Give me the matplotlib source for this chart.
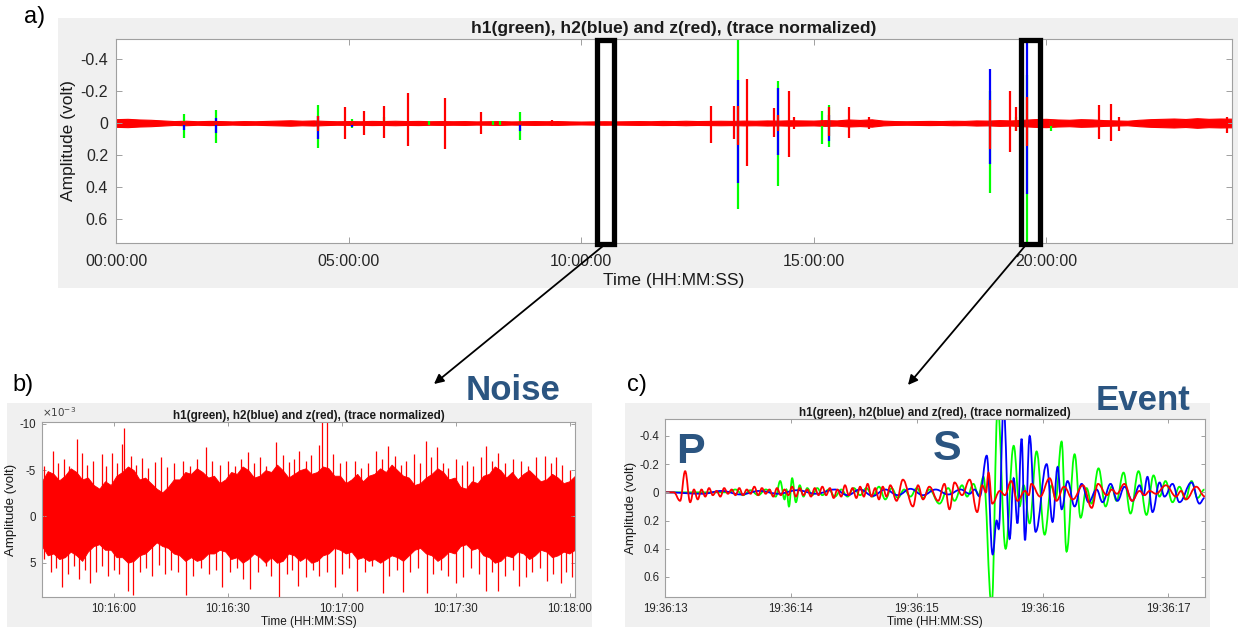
import matplotlib
matplotlib.use('Agg')
import numpy as np
import matplotlib.pyplot as plt
from matplotlib.path import Path
from matplotlib.patches import PathPatch, Rectangle, FancyArrowPatch

plt.rcParams['font.family'] = ['Liberation Sans', 'DejaVu Sans']

# ---------------- данные ----------------
# панель a) – сутки записи, часы; полуширина фонового шума по сетке 0.25 ч
a_env = [0.024, 0.026, 0.022, 0.020, 0.016,
         0.012, 0.014, 0.011, 0.013, 0.012, 0.010, 0.012, 0.011,
         0.013, 0.015, 0.017, 0.014, 0.016, 0.013, 0.011, 0.012,
         0.011, 0.013, 0.012, 0.014, 0.012, 0.013, 0.011, 0.012,
         0.011, 0.012, 0.010, 0.011, 0.012, 0.010, 0.011, 0.012,
         0.011, 0.012, 0.010, 0.009, 0.010, 0.011, 0.010, 0.011,
         0.012, 0.011, 0.013, 0.012, 0.014, 0.012, 0.013, 0.014,
         0.013, 0.015, 0.014, 0.016, 0.015, 0.017, 0.016, 0.015,
         0.018, 0.016, 0.022, 0.019, 0.023, 0.015, 0.012, 0.011,
         0.012, 0.013, 0.012, 0.014, 0.013, 0.016, 0.015, 0.018,
         0.016, 0.020, 0.024, 0.026, 0.022, 0.020, 0.024, 0.022,
         0.018, 0.016, 0.014, 0.020, 0.024, 0.026, 0.028, 0.025,
         0.030, 0.026, 0.028, 0.027]
a_env_h = np.linspace(0, 24, len(a_env))

a_ev_h = [1.46, 2.14, 4.34, 4.93, 5.08, 5.33, 5.76, 6.27, 6.73, 7.07, 7.86, 8.10, 8.26, 8.69,
          9.37, 12.80, 13.30, 13.38, 13.57, 14.14, 14.24, 14.47, 14.57, 15.18, 15.33, 15.77,
          16.20, 18.79, 19.22, 19.35, 19.60, 20.11, 21.15, 21.40, 21.57, 23.90]
a_green_lo = [-0.058, -0.080, -0.110, 0, -0.027, 0, -0.040, 0, -0.012, 0, 0, -0.015, -0.012,
              -0.070, 0, 0, 0, -0.60, 0, 0, -0.262, 0, 0, -0.076, -0.110, 0, 0, -0.20, 0,
              -0.040, -0.30, -0.020, 0, 0, 0, 0]
a_green_hi = [0.093, 0.124, 0.155, 0, 0.030, 0, 0.0, 0, 0.012, 0, 0, 0.012, 0.012, 0.105, 0,
              0, 0, 0.536, 0, 0, 0.392, 0, 0, 0.130, 0.149, 0, 0, 0.44, 0, 0.05, 0.80, 0.05,
              0, 0, 0, 0]
a_blue_lo = [0.0, -0.030, -0.045, 0, 0, 0, 0, 0, 0, 0, 0, 0, 0, 0.0, 0, 0, 0, -0.268, 0, 0,
             -0.216, 0, 0, 0, -0.050, 0, 0, -0.34, 0, 0, -0.52, 0, 0, 0, 0, 0]
a_blue_hi = [0.045, 0.060, 0.100, 0, 0.025, 0, 0, 0, 0, 0, 0, 0, 0, 0.050, 0, 0, 0, 0.375, 0,
             0, 0.200, 0, 0, 0, 0.115, 0, 0, 0.258, 0, 0, 0.443, 0, 0, 0, 0, 0]
a_red_lo = [-0.01, -0.015, -0.045, -0.097, -0.01, -0.076, -0.107, -0.186, 0, -0.155, -0.070,
            0, 0, -0.01, -0.02, -0.107, -0.107, -0.107, -0.274, -0.093, -0.05, -0.200, -0.04,
            -0.02, -0.097, -0.100, -0.04, -0.144, -0.200, -0.100, -0.165, -0.02, -0.110,
            -0.120, -0.040, -0.04]
a_red_hi = [0.01, 0.015, 0.050, 0.097, 0.01, 0.072, 0.093, 0.144, 0, 0.165, 0.066, 0, 0,
            0.01, 0.02, 0.128, 0.100, 0.140, 0.268, 0.087, 0.05, 0.210, 0.04, 0.02, 0.082,
            0.093, 0.04, 0.160, 0.180, 0.05, 0.144, 0.02, 0.100, 0.113, 0.050, 0.06]
a_ticks_h = [0, 5, 10, 15, 20]
a_tick_lbl = ['00:00:00', '05:00:00', '10:00:00', '15:00:00', '20:00:00']
a_box_noise = (10.34, 10.71)
a_box_event = (19.46, 19.87)

# панель b) – шум, секунды после 10:15:00, амплитуда x1e-3 (огибающая по сетке ~1.5 с)
b_env_top = [-3.8, -4.9, -4.6, -3.9, -4.4, -5.2, -4.8, -4.0, -4.2, -3.4,
             -3.0, -3.8, -3.4, -4.4, -4.8, -5.4, -5.0, -4.0, -4.2, -3.6,
             -3.0, -2.6, -3.2, -4.0, -4.0, -4.8, -4.6, -5.2, -4.8, -4.2,
             -4.4, -3.6, -4.0, -4.8, -4.6, -5.4, -5.0, -4.2, -4.4, -5.0,
             -4.8, -5.6, -5.0, -4.2, -4.6, -5.0, -5.2, -4.6, -4.8, -5.4,
             -5.2, -4.4, -4.4, -3.6, -4.0, -4.6, -3.8, -4.4, -4.6, -5.2,
             -4.8, -5.6, -5.0, -4.4, -4.2, -3.4, -3.6, -4.2, -4.6, -5.2,
             -4.8, -4.0, -4.2, -3.2, -3.0, -3.8, -3.6, -4.4, -4.6, -5.4,
             -5.0, -4.2, -4.8, -4.0, -4.6, -5.0, -4.4, -3.8, -4.0, -4.6,
             -4.2, -3.6, -3.8, -4.4]
b_env_bot = [3.2, 4.2, 4.0, 4.6, 4.4, 3.8, 4.2, 4.8, 3.8, 3.2,
             3.0, 3.6, 3.6, 4.4, 4.4, 5.0, 4.8, 4.2, 4.0, 3.4,
             2.8, 3.2, 3.4, 4.0, 4.2, 4.8, 4.4, 4.8, 4.6, 4.0,
             4.0, 3.6, 3.8, 4.6, 4.4, 5.0, 4.6, 4.0, 4.4, 5.0,
             4.4, 5.0, 4.8, 4.0, 4.2, 4.8, 4.4, 5.0, 4.8, 4.2,
             4.0, 3.4, 3.6, 4.0, 3.8, 4.6, 4.4, 4.8, 4.6, 5.0,
             4.6, 4.2, 4.4, 4.8, 4.2, 3.6, 3.4, 4.0, 4.2, 4.8,
             4.4, 3.8, 4.0, 3.2, 3.0, 3.6, 3.4, 4.2, 4.4, 5.0,
             4.8, 4.2, 4.4, 3.8, 4.0, 4.6, 4.2, 3.6, 3.8, 4.4,
             4.2, 3.8, 4.0, 3.6]
b_env_s = np.linspace(41.2, 181.3, len(b_env_top))
b_up_s = [41.8, 44.2, 45.5, 47.0, 48.3, 50.3, 51.6, 53.0, 54.5, 56.9, 58.0, 59.5, 61.0, 62.2,
          62.8, 64.5, 66.0, 67.5, 69.0, 71.0, 72.5, 74.0, 76.0, 78.2, 80.0, 82.0, 84.4, 86.0,
          88.0, 90.1, 92.0, 93.5, 95.3, 96.8, 98.4, 100.0, 102.6, 104.5, 106.0, 107.5, 108.8,
          110.5, 112.0, 114.0, 114.7, 116.0, 117.7, 119.5, 121.0, 123.4, 125.0, 127.0, 129.1,
          130.5, 132.2, 134.0, 135.5, 137.0, 139.0, 140.5, 142.1, 143.5, 144.9, 146.5, 148.0,
          150.0, 151.5, 153.0, 154.5, 156.5, 158.0, 159.5, 161.1, 163.0, 165.0, 167.0, 169.0,
          171.0, 173.3, 175.0, 176.4, 178.0, 180.0]
b_up_amp = [-5.5, -7.1, -5.8, -6.2, -5.4, -8.4, -6.8, -5.6, -6.0, -6.7, -5.5, -6.9, -5.8, -7.8,
            -9.6, -6.5, -5.6, -6.3, -5.2, -5.9, -6.4, -5.3, -5.8, -6.0, -5.5, -6.2, -7.5, -6.0,
            -5.6, -6.0, -5.4, -6.2, -7.0, -5.8, -6.4, -5.5, -8.0, -6.6, -5.9, -6.2, -7.1, -6.0,
            -6.6, -7.7, -10.5, -10.5, -6.7, -5.8, -6.0, -6.0, -5.2, -5.8, -7.1, -6.2, -7.6,
            -6.5, -5.6, -6.0, -6.7, -5.8, -8.2, -6.4, -7.5, -5.8, -5.2, -6.2, -5.6, -6.0, -5.4,
            -6.4, -7.6, -6.0, -6.9, -5.8, -6.2, -6.0, -5.5, -6.4, -6.5, -5.8, -6.4, -5.6, -5.0]
b_dn_s = [41.6, 43.5, 44.8, 46.4, 48.0, 49.5, 51.0, 52.5, 53.8, 55.5, 57.0, 58.5, 60.0, 61.5,
          63.9, 65.2, 67.0, 68.5, 70.0, 72.0, 73.5, 75.0, 77.0, 79.0, 81.0, 83.0, 85.0, 87.0,
          88.5, 90.5, 92.5, 94.0, 96.0, 98.0, 100.0, 101.5, 103.5, 105.5, 107.0, 108.5, 110.7,
          112.5, 114.0, 116.0, 118.2, 120.0, 122.0, 124.0, 126.0, 128.0, 130.9, 132.5, 134.5,
          136.0, 138.0, 140.0, 142.3, 144.0, 146.0, 148.0, 150.0, 151.9, 154.0, 156.0, 158.0,
          159.5, 161.1, 163.0, 165.0, 166.5, 168.5, 170.0, 172.0, 174.0, 175.5, 177.7, 179.0,
          180.5]
b_dn_amp = [4.6, 6.0, 5.6, 7.6, 6.2, 5.4, 6.8, 5.8, 7.2, 6.0, 5.4, 6.4, 5.8, 6.2, 8.1, 8.5,
            6.0, 5.6, 6.4, 5.2, 6.2, 5.8, 6.0, 8.5, 6.4, 5.6, 6.2, 5.8, 7.6, 6.0, 5.6, 6.8, 7.8,
            6.0, 5.4, 6.4, 8.8, 6.2, 5.8, 7.5, 6.5, 5.8, 6.4, 6.0, 7.6, 6.2, 5.6, 8.0, 6.0, 5.4,
            8.3, 6.4, 5.8, 8.2, 6.0, 5.6, 8.3, 6.2, 5.8, 6.4, 7.2, 6.5, 5.6, 6.2, 8.1, 6.0, 8.1,
            6.4, 5.8, 7.5, 6.5, 6.0, 5.6, 7.0, 6.2, 7.2, 6.0, 6.5]
b_ticks_s = [60, 90, 120, 150, 180]
b_tick_lbl = ['10:16:00', '10:16:30', '10:17:00', '10:17:30', '10:18:00']

# панель c) – событие, секунды после 19:36:00, экстремумы трасс
c_green_t = [13.00, 13.50, 13.56, 13.62, 13.68, 13.74, 13.80, 13.88, 13.915, 13.95, 13.965,
             13.985, 14.01, 14.04, 14.07, 14.10, 14.13, 14.17, 14.21, 14.25, 14.30, 14.35,
             14.40, 14.45, 14.50, 14.55, 14.60, 14.65, 14.70, 14.75, 14.80, 14.85, 14.90,
             14.95, 15.00, 15.05, 15.10, 15.18, 15.25, 15.30, 15.36, 15.40, 15.45, 15.49,
             15.53, 15.595, 15.643, 15.706, 15.77, 15.817, 15.849, 15.897, 15.952, 16.016,
             16.071, 16.103, 16.151, 16.19, 16.254, 16.302, 16.349, 16.389, 16.444, 16.50,
             16.548, 16.587, 16.643, 16.698, 16.762, 16.825, 16.881, 16.929, 16.976, 17.032,
             17.087, 17.135, 17.183, 17.23, 17.286]
c_green_a = [0, 0, -0.02, 0.02, -0.015, 0.02, -0.02, 0.03, -0.08, 0.05, -0.02, 0.10, -0.10,
             0.07, -0.05, 0.03, -0.03, 0.02, -0.03, 0.02, -0.02, 0.03, -0.02, 0.03, -0.03,
             0.02, -0.03, 0.03, -0.04, 0.05, -0.03, 0.04, -0.02, 0.03, -0.03, 0.04, -0.02,
             0.08, -0.03, 0.06, -0.05, 0.03, -0.06, 0.02, -0.11, 0.80, -0.60, 0.40, -0.33,
             0.10, -0.05, 0.22, -0.29, 0.30, -0.05, 0.05, -0.36, 0.42, -0.27, 0.18, -0.03,
             0.08, -0.17, 0.10, -0.04, 0.06, -0.14, 0.15, -0.15, 0.16, -0.12, 0.03, -0.08,
             0.07, -0.04, 0.05, -0.08, 0.04, -0.02]
c_blue_t = [13.00, 13.30, 13.45, 13.60, 13.75, 13.90, 14.05, 14.20, 14.35, 14.45,
            14.55, 14.65, 14.75, 14.85, 14.95, 15.05, 15.15, 15.25, 15.35, 15.42,
            15.46, 15.50, 15.556, 15.603, 15.635, 15.651, 15.69, 15.738, 15.77, 15.80,
            15.833, 15.86, 15.897, 15.944, 16.032, 16.079, 16.119, 16.151, 16.198, 16.254,
            16.31, 16.365, 16.429, 16.476, 16.54, 16.595, 16.651, 16.714, 16.77, 16.80,
            16.833, 16.873, 16.929, 16.968, 17.032, 17.087, 17.183, 17.246, 17.286]
c_blue_a = [0, 0.01, -0.01, 0.015, -0.01, 0.01, -0.015, 0.01, -0.02, 0.02,
            -0.02, 0.025, -0.02, 0.02, -0.025, 0.02, -0.02, 0.015, -0.02, 0.01,
            -0.02, 0.03, -0.26, 0.44, 0.20, 0.26, -0.60, 0.33, -0.10, 0.22,
            -0.38, 0.34, -0.40, 0.28, -0.20, 0.21, -0.18, 0.12, -0.08, 0.10,
            -0.06, 0.07, -0.02, 0.07, -0.06, 0.06, -0.04, 0.06, -0.05, 0.02,
            -0.11, 0.14, -0.07, 0.03, -0.06, 0.07, -0.07, 0.08, 0.04]
c_red_t = [13.00, 13.07, 13.12, 13.16, 13.20, 13.23, 13.26, 13.29, 13.32, 13.35,
           13.38, 13.41, 13.44, 13.47, 13.50, 13.53, 13.56, 13.59, 13.62, 13.65,
           13.68, 13.71, 13.74, 13.77, 13.80, 13.83, 13.86, 13.89, 13.92, 13.95,
           13.98, 14.01, 14.04, 14.07, 14.10, 14.13, 14.16, 14.19, 14.22, 14.25,
           14.28, 14.31, 14.34, 14.37, 14.40, 14.43, 14.46, 14.49, 14.52, 14.55,
           14.58, 14.61, 14.64, 14.67, 14.70, 14.73, 14.76, 14.79, 14.84, 14.89,
           14.97, 15.01, 15.05, 15.10, 15.17, 15.22, 15.26, 15.30, 15.36, 15.42,
           15.48, 15.52, 15.55, 15.57, 15.60, 15.66, 15.70, 15.75, 15.80, 15.86,
           15.89, 15.91, 15.98, 16.056, 16.11, 16.17, 16.24, 16.32, 16.39, 16.44,
           16.51, 16.55, 16.59, 16.65, 16.71, 16.77, 16.81, 16.85, 16.90, 16.98,
           17.06, 17.10, 17.14, 17.22, 17.29]
c_red_a = [0, 0, 0.06, -0.15, 0.07, -0.02, 0.05, -0.02, 0.03, -0.03,
           0.02, -0.01, 0.03, -0.03, 0.01, -0.02, 0.02, -0.03, 0.02, -0.02,
           0.01, -0.04, 0.02, -0.03, 0.01, -0.02, 0.03, -0.03, 0.02, -0.02,
           0.02, -0.04, 0.03, -0.03, 0.02, -0.02, 0.03, -0.03, 0.02, -0.04,
           0.02, -0.03, 0.04, -0.02, 0.03, -0.05, 0.02, -0.03, 0.04, -0.04,
           0.03, -0.06, 0.03, -0.03, 0.05, -0.04, 0.03, -0.05, 0.06, -0.09,
           0.10, -0.05, 0.05, -0.04, 0.06, -0.06, 0.12, -0.07, 0.02, -0.09,
           0.14, -0.05, 0.00, -0.14, 0.08, -0.01, 0.02, -0.08, 0.06, -0.01,
           0.02, -0.06, 0.03, -0.10, 0.06, -0.04, 0.05, -0.05, 0.11, -0.06,
           0.02, -0.02, 0.01, -0.06, 0.06, -0.01, 0.02, -0.01, 0.01, -0.05,
           0.03, -0.01, 0.05, -0.04, 0.03]
c_ticks_s = [13, 14, 15, 16, 17]
c_tick_lbl = ['19:36:13', '19:36:14', '19:36:15', '19:36:16', '19:36:17']
amp_ticks = [-0.4, -0.2, 0, 0.2, 0.4, 0.6]
amp_lbl = ['-0.4', '-0.2', '0', '0.2', '0.4', '0.6']

TITLE = 'h1(green), h2(blue) and z(red), (trace normalized)'
GRN, BLU, RED = '#00ff00', '#0000ff', '#ff0000'
MBLUE = '#2b5581'
W, H = 1238, 630


def fbox(x0, y0, x1, y1):
    # пиксели (от верхнего левого угла) -> доли фигуры
    return [x0 / W, 1 - y1 / H, (x1 - x0) / W, (y1 - y0) / H]


def wave(t, a):
    # гладкая кривая через экстремумы
    verts = [(t[0], a[0])]
    codes = [Path.MOVETO]
    for i in range(1, len(t)):
        d = (t[i] - t[i - 1]) * 0.4
        verts += [(t[i - 1] + d, a[i - 1]), (t[i] - d, a[i]), (t[i], a[i])]
        codes += [Path.CURVE4] * 3
    return Path(verts, codes)


def style(ax, fs, tl):
    for s in ax.spines.values():
        s.set_color('#a0a0a0')
        s.set_linewidth(0.8)
    ax.tick_params(direction='in', top=True, right=True, length=tl, width=0.7,
                   color='#a0a0a0', labelcolor='#262626', labelsize=fs, pad=fs * 0.5)


fig = plt.figure(figsize=(W / 100, H / 100), dpi=100)
fig.patch.set_facecolor('white')

# серые подложки
for r in [(58, 18, 1238, 288), (7, 403, 592, 627), (625, 403, 1210, 627)]:
    b = fbox(*r)
    fig.add_artist(Rectangle((b[0], b[1]), b[2], b[3], transform=fig.transFigure,
                             facecolor='#f0f0f0', edgecolor='none', zorder=-5))

# ---------- a) ----------
ax = fig.add_axes(fbox(116, 39, 1232, 243))
ax.vlines(a_ev_h, a_green_lo, a_green_hi, color=GRN, lw=1.6)
ax.vlines(a_ev_h, a_blue_lo, a_blue_hi, color=BLU, lw=1.6)
ax.vlines(a_ev_h, a_red_lo, a_red_hi, color=RED, lw=1.6)
ax.fill_between(a_env_h, [-v for v in a_env], a_env, color=RED, lw=0.8, ec=RED)
ax.set_xlim(0, 24)
ax.set_ylim(0.75, -0.525)
ax.set_xticks(a_ticks_h, a_tick_lbl)
ax.set_yticks(amp_ticks, amp_lbl)
style(ax, 11.5, 4)
ax.tick_params(axis='x', pad=8)
ax.set_title(TITLE, fontsize=12.5, fontweight='bold', pad=4, color='#1a1a1a')
ax.set_xlabel('Time (HH:MM:SS)', fontsize=12.5, labelpad=3, color='#1a1a1a')
ax.set_ylabel('Amplitude (volt)', fontsize=12.5, labelpad=3, color='#1a1a1a')
for x0, x1 in [a_box_noise, a_box_event]:
    ax.add_patch(Rectangle((x0, -0.52), x1 - x0, 1.276, fill=False, ec='black', lw=3.8,
                           clip_on=False, zorder=6))

# ---------- b) ----------
bx = fig.add_axes(fbox(42, 422, 575, 597))
bx.fill_between(b_env_s, b_env_top, b_env_bot, color=RED, lw=0.6, ec=RED)
bx.vlines(b_up_s, 0, b_up_amp, color=RED, lw=0.9)
bx.vlines(b_dn_s, 0, b_dn_amp, color=RED, lw=0.9)
bx.set_xlim(41.2, 181.3)
bx.set_ylim(8.7, -10.2)
bx.set_xticks(b_ticks_s, b_tick_lbl)
bx.set_yticks([-10, -5, 0, 5], ['-10', '-5', '0', '5'])
style(bx, 8.3, 3)
bx.set_title(TITLE, fontsize=8.4, fontweight='bold', pad=2, color='#1a1a1a')
bx.set_xlabel('Time (HH:MM:SS)', fontsize=8.5, labelpad=1, color='#1a1a1a')
bx.set_ylabel('Amplitude (volt)', fontsize=9.5, labelpad=2, color='#1a1a1a')
bx.text(0.0, 1.015, '$\\times10^{-3}$', transform=bx.transAxes, fontsize=7.5,
        color='#404040', ha='left', va='bottom')

# ---------- c) ----------
cx = fig.add_axes(fbox(665, 419, 1205, 597))
for t, a, col in [(c_green_t, c_green_a, GRN), (c_blue_t, c_blue_a, BLU),
                  (c_red_t, c_red_a, RED)]:
    cx.add_patch(PathPatch(wave(t, a), fill=False, ec=col, lw=1.3))
cx.set_xlim(13.0, 17.29)
cx.set_ylim(0.742, -0.52)
cx.set_xticks(c_ticks_s, c_tick_lbl)
cx.set_yticks(amp_ticks, amp_lbl)
style(cx, 8.3, 3)
cx.set_title(TITLE, fontsize=8.4, fontweight='bold', pad=2, color='#1a1a1a')
cx.set_xlabel('Time (HH:MM:SS)', fontsize=8.5, labelpad=1, color='#1a1a1a')
cx.set_ylabel('Amplitude (volt)', fontsize=9.5, labelpad=2, color='#1a1a1a')

# ---------- подписи и стрелки ----------
def ftext(x, y, s, **kw):
    fig.text(x / W, 1 - y / H, s, ha='center', va='center', **kw)

ftext(35, 17, 'a)', fontsize=17)
ftext(23, 385, 'b)', fontsize=17)
ftext(637, 385, 'c)', fontsize=17)
ftext(513, 390, 'Noise', fontsize=25, fontweight='bold', color=MBLUE)
ftext(1143, 400, 'Event', fontsize=25, fontweight='bold', color=MBLUE)
ftext(690, 452, 'P', fontsize=31, fontweight='bold', color=MBLUE)
ftext(947, 449, 'S', fontsize=31, fontweight='bold', color=MBLUE)

for (x0, y0), (x1, y1) in [((603, 246), (434, 384)), ((1025, 246), (908, 385))]:
    fig.add_artist(FancyArrowPatch((x0 / W, 1 - y0 / H), (x1 / W, 1 - y1 / H),
                                   transform=fig.transFigure, arrowstyle='-|>',
                                   mutation_scale=14, lw=1.3, color='black',
                                   shrinkA=0, shrinkB=0, zorder=10))

fig.savefig('out.png', dpi=100)
